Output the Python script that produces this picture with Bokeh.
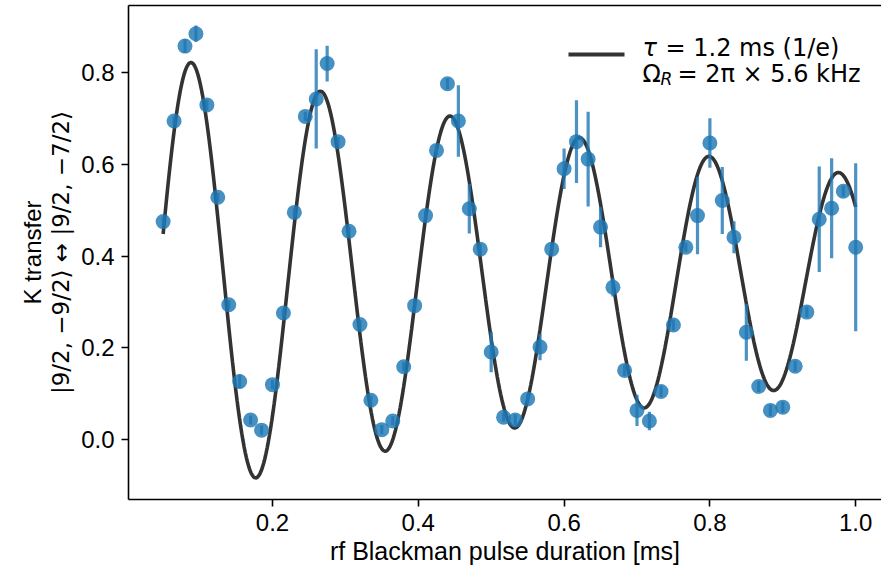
import numpy as np
from bokeh.plotting import figure
from bokeh.models import Range1d, LinearAxis, FixedTicker, NumeralTickFormatter, Label, ColumnDataSource
from bokeh.embed import file_html
from bokeh.resources import INLINE

# ---------------- data ----------------
pulse_ms = [0.050, 0.065, 0.080, 0.095, 0.110, 0.125, 0.140, 0.155, 0.170, 0.185,
            0.200, 0.215, 0.230, 0.245, 0.260, 0.275, 0.290, 0.305, 0.320, 0.335,
            0.350, 0.365, 0.380, 0.395, 0.410, 0.425, 0.440, 0.455, 0.470, 0.485,
            0.500, 0.517, 0.533, 0.550, 0.567, 0.583, 0.600, 0.617, 0.633, 0.650,
            0.667, 0.683, 0.700, 0.717, 0.733, 0.750, 0.767, 0.783, 0.800, 0.817,
            0.833, 0.850, 0.867, 0.883, 0.900, 0.917, 0.933, 0.950, 0.967, 0.983,
            1.000]
transfer = [0.475, 0.694, 0.857, 0.884, 0.729, 0.528, 0.294, 0.127, 0.043, 0.021,
            0.120, 0.276, 0.495, 0.704, 0.742, 0.819, 0.649, 0.454, 0.251, 0.086,
            0.022, 0.041, 0.159, 0.292, 0.488, 0.630, 0.775, 0.694, 0.503, 0.415,
            0.191, 0.049, 0.043, 0.089, 0.202, 0.415, 0.590, 0.649, 0.611, 0.463,
            0.332, 0.151, 0.064, 0.041, 0.105, 0.250, 0.419, 0.488, 0.646, 0.521,
            0.441, 0.234, 0.116, 0.064, 0.071, 0.160, 0.278, 0.480, 0.504, 0.541,
            0.419]
transfer_err = [0.010, 0.010, 0.015, 0.018, 0.012, 0.010, 0.010, 0.015, 0.010, 0.010,
                0.010, 0.010, 0.010, 0.010, 0.108, 0.039, 0.010, 0.010, 0.010, 0.010,
                0.010, 0.010, 0.010, 0.010, 0.010, 0.010, 0.012, 0.078, 0.054, 0.012,
                0.044, 0.010, 0.012, 0.010, 0.029, 0.012, 0.044, 0.090, 0.103, 0.044,
                0.020, 0.012, 0.034, 0.020, 0.012, 0.012, 0.010, 0.084, 0.054, 0.073,
                0.035, 0.062, 0.012, 0.012, 0.012, 0.012, 0.012, 0.115, 0.109, 0.012,
                0.183]
fit_offset = 0.353
fit_amplitude = 0.503
fit_tau_ms = 1.24
fit_freq_khz = 5.63
fit_t_range = [0.05, 1.0]

x_ticks = [0.2, 0.4, 0.6, 0.8, 1.0]
y_ticks = [0.0, 0.2, 0.4, 0.6, 0.8]

legend_line1 = "= 1.2 ms (1/e)"
legend_line2 = "= 2π × 5.6 kHz"
x_label = "rf Blackman pulse duration [ms]"
y_label_1 = "K transfer"
y_label_2 = "|9/2, −9/2⟩ ↔ |9/2, −7/2⟩"

# ---------------- layout ----------------
W, H = 881, 573
FL, FT, FB, FR = 128, 5, 74, 0
x_lo, x_hi = 0.0025, 1.0354
y_lo, y_hi = -0.130, 0.9454
FW = W - FL - FR
FH = H - FT - FB

def px2x(px):
    return x_lo + (px - FL) / FW * (x_hi - x_lo)

def py2y(py):
    return y_hi - (py - FT) / FH * (y_hi - y_lo)

SANS = "Liberation Sans"
MATH = "DejaVu Sans"
BLUE = "#1f77b4"

p = figure(width=W, height=H, x_range=Range1d(x_lo, x_hi), y_range=Range1d(y_lo, y_hi),
           output_backend="svg", toolbar_location=None,
           min_border_left=FL, min_border_right=FR, min_border_top=FT, min_border_bottom=FB)
p.outline_line_color = None
p.grid.visible = False
p.background_fill_color = "white"
p.border_fill_color = "white"

for ax in (p.xaxis[0], p.yaxis[0]):
    ax.axis_line_width = 1.6
    ax.axis_line_color = "black"
    ax.major_tick_line_width = 1.6
    ax.major_tick_out = 7
    ax.major_tick_in = 0
    ax.minor_tick_out = 0
    ax.minor_tick_in = 0
    ax.major_label_text_font = SANS
    ax.major_label_text_font_size = "24px"
    ax.major_label_text_color = "black"
    ax.axis_label_text_font = SANS
    ax.axis_label_text_font_size = "25px"
    ax.axis_label_text_font_style = "normal"
    ax.axis_label_text_color = "black"

p.xaxis.ticker = FixedTicker(ticks=x_ticks)
p.yaxis.ticker = FixedTicker(ticks=y_ticks)
p.xaxis.formatter = NumeralTickFormatter(format="0.0")
p.yaxis.formatter = NumeralTickFormatter(format="0.0")
p.xaxis.axis_label = x_label
p.xaxis.major_label_standoff = 7
p.xaxis.axis_label_standoff = 3
p.yaxis.major_label_standoff = 7

# y label, second line (math font) on the main axis
p.yaxis.axis_label = y_label_2
p.yaxis.axis_label_text_font = MATH
p.yaxis.axis_label_text_font_size = "23px"
p.yaxis.axis_label_standoff = 4

# y label, first line on an extra tick-less axis further left
yl1 = LinearAxis(ticker=FixedTicker(ticks=[]), major_label_text_font_size="0px",
                 major_tick_out=0, major_tick_in=0, minor_tick_out=0, minor_tick_in=0,
                 major_label_standoff=0, axis_line_color=None,
                 axis_label=y_label_1, axis_label_text_font=SANS, axis_label_text_font_size="24px",
                 axis_label_text_font_style="normal", axis_label_text_color="black",
                 axis_label_standoff=0)
p.add_layout(yl1, "left")

top = LinearAxis(ticker=FixedTicker(ticks=[]), major_label_text_font_size="0px",
                 major_tick_out=0, major_tick_in=0, minor_tick_out=0, minor_tick_in=0,
                 major_label_standoff=0, axis_line_width=1.6, axis_line_color="black")
p.add_layout(top, "above")

# fit curve (model evaluated with the read parameters)
t = np.linspace(fit_t_range[0], fit_t_range[1], 600)
fit = fit_offset - fit_amplitude * np.exp(-t / fit_tau_ms) * np.cos(2 * np.pi * fit_freq_khz * t)
p.line(t, fit, line_color="#333333", line_width=3.6)

# data with error bars
xs = np.array(pulse_ms)
ys = np.array(transfer)
es = np.array(transfer_err)
src = ColumnDataSource(dict(x=xs, y=ys, lo=ys - es, hi=ys + es))
p.segment(x0="x", y0="lo", x1="x", y1="hi", source=src, line_color=BLUE, line_alpha=0.8, line_width=3.2)
p.scatter("x", "y", source=src, size=15, fill_color=BLUE, fill_alpha=0.82, line_color=None)

# legend (manual)
p.line([px2x(568), px2x(624)], [py2y(54), py2y(54)], line_color="#333333", line_width=4)
lab_kw = dict(text_font_size="24px", text_color="black", text_baseline="alphabetic", text_align="left")
p.add_layout(Label(x=px2x(642), y=py2y(47.5), text="τ", text_font=MATH, text_font_style="italic", **lab_kw))
p.add_layout(Label(x=px2x(665), y=py2y(47.5), text=legend_line1, text_font=MATH, **lab_kw))
p.add_layout(Label(x=px2x(642), y=py2y(73.5), text="Ω", text_font=MATH, **lab_kw))
p.add_layout(Label(x=px2x(660), y=py2y(78), text="R", text_font=MATH, text_font_style="italic",
                   text_font_size="17px", text_color="black", text_baseline="alphabetic", text_align="left"))
p.add_layout(Label(x=px2x(677), y=py2y(73.5), text=legend_line2, text_font=MATH, **lab_kw))

open("out.html", "w").write(file_html(p, INLINE))
